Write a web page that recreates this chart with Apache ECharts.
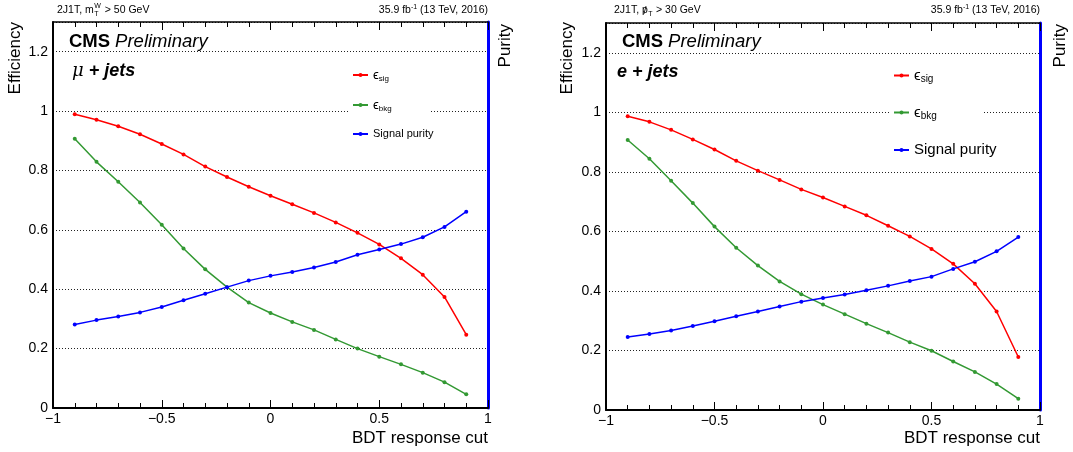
<!DOCTYPE html>
<html><head><meta charset="utf-8">
<script src="https://cdn.jsdelivr.net/npm/echarts@6/dist/echarts.min.js"></script>
<style>html,body{margin:0;padding:0;background:#fff}#c{width:1073px;height:452px}</style>
</head><body><div id="c"></div>
<script>
// ---- data ----
const cuts = [-0.9,-0.8,-0.7,-0.6,-0.5,-0.4,-0.3,-0.2,-0.1,0,0.1,0.2,0.3,0.4,0.5,0.6,0.7,0.8,0.9];
const muSig = [0.989,0.971,0.949,0.922,0.889,0.854,0.813,0.778,0.745,0.715,0.686,0.657,0.625,0.590,0.551,0.504,0.449,0.374,0.247];
const muBkg = [0.907,0.829,0.762,0.692,0.617,0.537,0.467,0.407,0.355,0.320,0.290,0.263,0.231,0.200,0.173,0.147,0.119,0.087,0.046];
const muPur = [0.281,0.296,0.308,0.322,0.340,0.363,0.385,0.407,0.429,0.445,0.458,0.473,0.492,0.516,0.534,0.552,0.575,0.610,0.661];
const eSig = [0.987,0.968,0.941,0.909,0.875,0.837,0.804,0.773,0.741,0.714,0.684,0.654,0.619,0.583,0.541,0.491,0.424,0.331,0.178];
const eBkg = [0.907,0.844,0.770,0.695,0.616,0.545,0.485,0.432,0.389,0.354,0.322,0.290,0.260,0.228,0.199,0.163,0.128,0.087,0.038];
const ePur = [0.245,0.255,0.267,0.282,0.298,0.315,0.331,0.348,0.364,0.376,0.388,0.402,0.417,0.433,0.448,0.474,0.498,0.533,0.581];
const seriesNames = ['sig','bkg','Signal purity'];
const channelLabels = ['\u03bc + jets','e + jets'];
const lumiText = '35.9 fb';
const xTitle = 'BDT response cut';

const FONT = '"Liberation Sans", Arial, Helvetica, sans-serif';
const RED = '#ff0000', GREEN = '#339933', BLUE = '#0000ff';
const Y_MAX = 1.3;

function measure(txt, size, weight, style) {
  const c = document.createElement('canvas').getContext('2d');
  c.font = (style||'normal') + ' ' + (weight||'normal') + ' ' + size + 'px ' + FONT;
  return c.measureText(txt).width;
}

const panels = [
  {grid:{left:53, right:585, top:22, bottom:44}, sig:muSig, bkg:muBkg, pur:muPur,
   xl:53, xr:488, legendX:352, legendY:[75,105,134], legSize:[13,8,11], rect:{x:348,y:58,width:82,height:95}},
  {grid:{left:606, right:33, top:23, bottom:42}, sig:eSig, bkg:eBkg, pur:ePur,
   xl:606, xr:1040, legendX:893, legendY:[75,112,150], legSize:[15,10,15], rect:{x:890,y:58,width:92,height:110}}
];

const chart = echarts.init(document.getElementById('c'), null, {renderer:'canvas'});

const fmtX = v => v === 0 ? '0' : (v < 0 ? '\u2212' + Math.abs(v) : String(v));

const grids = [], xAxes = [], yAxes = [], series = [], legends = [], graphics = [];

panels.forEach((p, gi) => {
  grids.push(Object.assign({}, p.grid));
  [false, true].forEach(top => {
    xAxes.push({type:'value', gridIndex:gi, position: top?'top':'bottom', min:-1, max:1, interval:0.5,
      axisLine:{show:true, onZero:false, lineStyle:{color:'#000', width: top?1.5:2}},
      axisTick:{show:true, inside:true, length:8, lineStyle:{color:'#000', width:1}},
      minorTick:{show:true, splitNumber:5, length:5, lineStyle:{color:'#000', width:1}},
      axisLabel:{show:!top, fontSize:14, color:'#000', fontFamily:FONT, margin:4, formatter: fmtX},
      splitLine:{show:false}, minorSplitLine:{show:false}});
  });
  yAxes.push({type:'value', gridIndex:gi, position:'left', min:0, max:Y_MAX, interval:0.2,
    axisLine:{show:true, onZero:false, lineStyle:{color:'#000', width:2}}, axisTick:{show:false},
    axisLabel:{fontSize:14, color:'#000', fontFamily:FONT, margin:5,
      formatter: v => v > 1.25 ? '' : String(+v.toFixed(1))},
    splitLine:{show:true, lineStyle:{color:'#222', type:[1,2], width:1}}});
  yAxes.push({type:'value', gridIndex:gi, position:'right', min:0, max:Y_MAX, interval:0.2,
    axisLine:{show:true, onZero:false, lineStyle:{color:BLUE, width:3}}, axisTick:{show:false},
    axisLabel:{show:false}, splitLine:{show:false}});

  const vals = [p.sig, p.bkg, p.pur], cols = [RED, GREEN, BLUE];
  vals.forEach((arr, k) => {
    series.push({type:'line', name:seriesNames[k], xAxisIndex:2*gi, yAxisIndex:2*gi,
      data: cuts.map((x, i) => [x, arr[i]]), symbol:'circle', symbolSize:4, showSymbol:true,
      lineStyle:{color:cols[k], width:1.5}, itemStyle:{color:cols[k]}, animation:false, z:3});
    const isPur = k === 2;
    legends.push({data:[seriesNames[k]], left:p.legendX, top:p.legendY[k] - 8, padding:0,
      itemWidth:15, itemHeight:5, selectedMode:false, z:6,
      formatter: n => isPur ? n : '{e|\u03f5}{s|' + n + '}',
      textStyle:{color:'#000', fontFamily:FONT, fontSize:p.legSize[2], lineHeight:16,
        rich:{e:{fontSize:p.legSize[0], fontFamily:FONT, color:'#000', lineHeight:16},
              s:{fontSize:p.legSize[1], fontFamily:FONT, color:'#000', padding:[7,0,0,0], lineHeight:16}}}});
  });

  graphics.push({type:'rect', shape:p.rect, style:{fill:'#fff'}, z:4, silent:true});
  graphics.push({type:'text', x:p.xr, y:10, z:5, style:{text:'{n|' + lumiText + '}{sup|-1}{n| (13 TeV, 2016)}',
    align:'right', verticalAlign:'middle', rich:{n:{fontSize:10.5, fontFamily:FONT, fill:'#000'},
    sup:{fontSize:7, fontFamily:FONT, fill:'#000', padding:[0,0,6,0]}}}});
  graphics.push({type:'text', x:p.xl + 16, y:42, z:5, style:{text:'{b|CMS} {i|Preliminary}', verticalAlign:'middle',
    font:'18px ' + FONT, rich:{b:{fontSize:18.5, fontWeight:'bold', fontFamily:FONT, fill:'#000'},
    i:{fontSize:18.5, fontStyle:'italic', fontFamily:FONT, fill:'#000'}}}});
  graphics.push({type:'text', x: gi===0 ? 15 : 567, y:22, rotation:Math.PI/2, z:5,
    style:{text:'Efficiency', align:'right', verticalAlign:'middle', font:'17px ' + FONT, fill:'#000'}});
  graphics.push({type:'text', x: gi===0 ? 505 : 1060, y:24, rotation:Math.PI/2, z:5,
    style:{text:'Purity', align:'right', verticalAlign:'middle', font:'17px ' + FONT, fill:'#000'}});
  graphics.push({type:'text', x:p.xr, y:438, z:5,
    style:{text:xTitle, align:'right', verticalAlign:'middle', font:'17px ' + FONT, fill:'#000'}});
});

graphics.push({type:'text', x:72, y:71, z:5, style:{text:'{m|\u03bc}{j| + jets}', verticalAlign:'middle',
  rich:{m:{fontSize:18, fontStyle:'italic', fontFamily:'"DejaVu Serif", serif', fill:'#000'},
        j:{fontSize:18, fontStyle:'italic', fontWeight:'bold', fontFamily:FONT, fill:'#000'}}}});
graphics.push({type:'text', x:617, y:72, z:5, style:{text:channelLabels[1], verticalAlign:'middle',
  font:'italic bold 18px ' + FONT, fill:'#000'}});

(function(){
  const fs = 10.5, x0 = 57, y0 = 10;
  const a = '2J1T, m', w = measure(a, fs);
  graphics.push({type:'text', x:x0, y:y0, style:{text:a, font:fs + 'px ' + FONT, verticalAlign:'middle', fill:'#000'}});
  graphics.push({type:'text', x:x0 + w + 0.5, y:y0 - 4, style:{text:'W', font:'7px ' + FONT, verticalAlign:'middle', fill:'#000'}});
  graphics.push({type:'text', x:x0 + w + 0.5, y:y0 + 4, style:{text:'T', font:'7px ' + FONT, verticalAlign:'middle', fill:'#000'}});
  graphics.push({type:'text', x:x0 + w + measure('W', 7) + 1.5, y:y0, style:{text:' > 50 GeV', font:fs + 'px ' + FONT, verticalAlign:'middle', fill:'#000'}});
})();
(function(){
  const fs = 10.5, x0 = 614, y0 = 10;
  const a = '2J1T, ', w = measure(a, fs), wp = measure('p', fs);
  graphics.push({type:'text', x:x0, y:y0, style:{text:a + 'p', font:fs + 'px ' + FONT, verticalAlign:'middle', fill:'#000'}});
  graphics.push({type:'text', x:x0 + w + wp/2, y:y0 + 1, style:{text:'/', font:fs + 'px ' + FONT, align:'center', verticalAlign:'middle', fill:'#000'}});
  graphics.push({type:'text', x:x0 + w + wp + 0.5, y:y0 + 4, style:{text:'T', font:'7px ' + FONT, verticalAlign:'middle', fill:'#000'}});
  graphics.push({type:'text', x:x0 + w + wp + measure('T', 7) + 1, y:y0, style:{text:' > 30 GeV', font:fs + 'px ' + FONT, verticalAlign:'middle', fill:'#000'}});
})();

chart.setOption({
  animation:false,
  grid: grids, xAxis: xAxes, yAxis: yAxes, series: series, legend: legends,
  graphic: graphics
});
</script></body></html>
